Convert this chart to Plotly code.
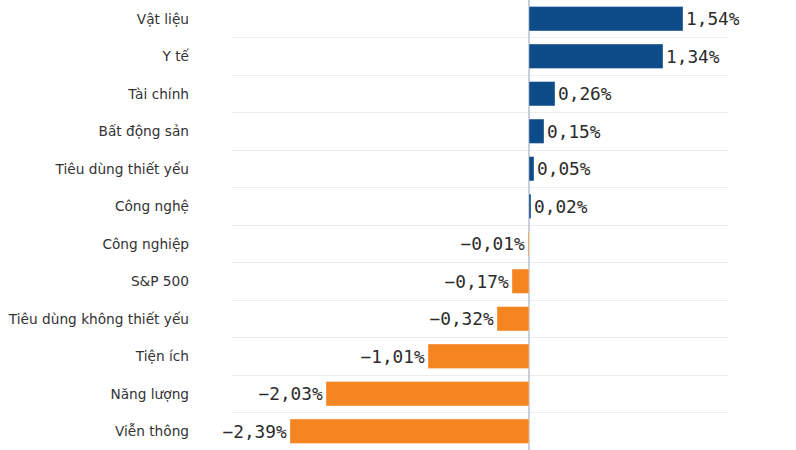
import plotly.graph_objects as go

# Thay đổi theo ngành (%)
nganh = ['Vật liệu', 'Y tế', 'Tài chính', 'Bất động sản', 'Tiêu dùng thiết yếu',
         'Công nghệ', 'Công nghiệp', 'S&P 500', 'Tiêu dùng không thiết yếu',
         'Tiện ích', 'Năng lượng', 'Viễn thông']
thay_doi = [1.54, 1.34, 0.26, 0.15, 0.05, 0.02, -0.01, -0.17, -0.32, -1.01, -2.03, -2.39]

xanh = '#0d4b89'
cam = '#f48521'

mau = [xanh if v >= 0 else cam for v in thay_doi]
nhan = [f"{v:.2f}".replace('.', ',').replace('-', '\u2212') + '%' for v in thay_doi]

fig = go.Figure(go.Bar(
    x=thay_doi,
    y=nganh,
    orientation='h',
    marker={'color': mau, 'line': {'color': 'rgba(255,255,255,0.35)', 'width': 1}},
    width=0.65,
    text=nhan,
    textposition='outside',
    textfont={'family': 'DejaVu Sans Mono', 'size': 17.8, 'color': '#2b2b2b'},
    constraintext='none',
    cliponaxis=False,
    hoverinfo='skip',
))

fig.update_layout(
    width=796, height=450,
    margin={'l': 232, 'r': 68, 't': 0, 'b': 0},
    plot_bgcolor='white',
    paper_bgcolor='white',
    showlegend=False,
    font={'family': 'DejaVu Sans', 'size': 14, 'color': '#333333'},
)
fig.update_xaxes(
    range=[-2.97, 1.99],
    showticklabels=False,
    showgrid=False,
    zeroline=True,
    zerolinecolor='#c9ced8',
    zerolinewidth=1.5,
)
fig.update_yaxes(
    autorange='reversed',
    tickson='boundaries',
    showgrid=True,
    gridcolor='#ececec',
    gridwidth=1,
    ticks='',
    ticklabelstandoff=42,
    tickfont={'family': 'DejaVu Sans', 'size': 13.7, 'color': '#333333'},
)

# bỏ lề mặc định của trang để biểu đồ nằm sát góc cửa sổ
fig.write_html("out.html", config={'displayModeBar': False},
               post_script="document.body.style.margin='0';")
